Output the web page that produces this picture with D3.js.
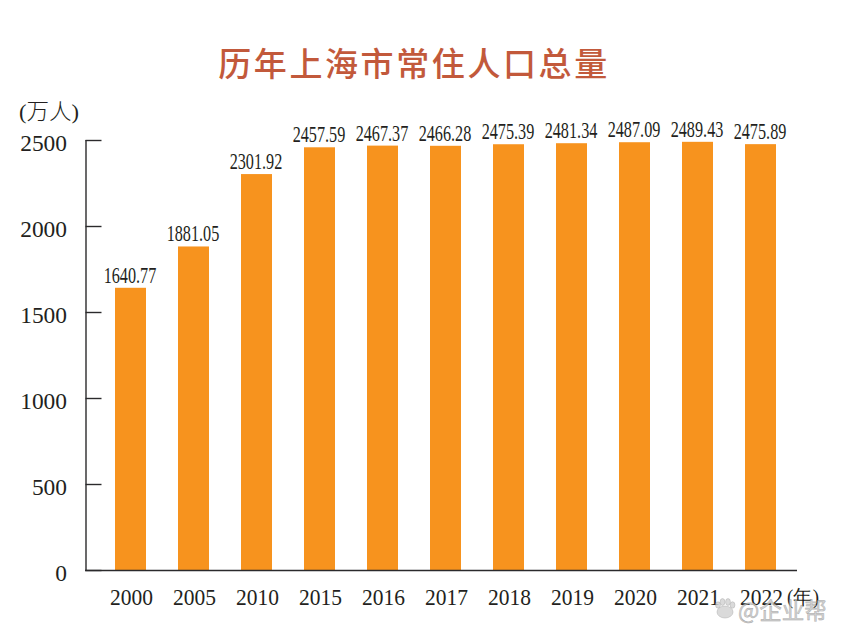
<!DOCTYPE html>
<html><head><meta charset="utf-8">
<script src="https://cdn.jsdelivr.net/npm/d3@7"></script>
<style>html,body{margin:0;background:#fff}svg{display:block}
text{font-family:"Liberation Serif",serif;fill:#231f20}</style></head>
<body><svg id="c" width="844" height="641"></svg>
<script>
const categories=["2000","2005","2010","2015","2016","2017","2018","2019","2020","2021","2022"];
const population=[1640.77,1881.05,2301.92,2457.59,2467.37,2466.28,2475.39,2481.34,2487.09,2489.43,2475.89];
const yTicks=[0,500,1000,1500,2000,2500];
const titleText="历年上海市常住人口总量";
const svg=d3.select("#c");
const x=d3.scaleBand().domain(categories).range([115,776]).paddingInner(0.508).paddingOuter(0);
const y=d3.scaleLinear().domain([0,2500]).range([570,140]);
const ink="#2b2a2c";

svg.append("text").attr("x",414).attr("y",76).attr("text-anchor","middle")
  .style("font-family","'Noto Sans CJK SC'").style("font-size","33px").style("font-weight","500")
  .style("fill","#c2593b").style("letter-spacing","2.6px").text(titleText);

svg.append("text").attr("x",19).attr("y",119).style("font-size","22px").style("font-family","'Liberation Serif','Noto Sans CJK SC'").style("font-weight","300").text("(万人)")
  .attr("textLength",60).attr("lengthAdjust","spacingAndGlyphs");

svg.selectAll("rect.bar").data(population).join("rect").attr("class","bar")
  .attr("x",(d,i)=>x(categories[i])).attr("width",x.bandwidth())
  .attr("y",d=>y(d)).attr("height",d=>y(0)-y(d)).attr("fill","#f7931e");

const yAxis=svg.append("g").attr("transform","translate(85.5,0)")
  .call(d3.axisRight(y).tickValues(yTicks).tickSize(16).tickFormat(""));
yAxis.select(".domain").attr("stroke",ink).attr("stroke-width",1.4).attr("d",`M0.5,${y(2500)}V${y(0)}`);
yAxis.selectAll("line").attr("stroke",ink).attr("stroke-width",1.4);

svg.append("g").selectAll("text").data(yTicks).join("text")
  .attr("text-anchor","end")
  .attr("transform",d=>`translate(67,${y(d)+11}) scale(0.975,1)`)
  .style("font-size","24px").text(d=>d);

svg.append("line").attr("x1",85).attr("x2",797).attr("y1",y(0)+0.5).attr("y2",y(0)+0.5)
  .attr("stroke",ink).attr("stroke-width",1.4);

svg.append("g").selectAll("text").data(categories).join("text")
  .attr("text-anchor","middle")
  .attr("transform",d=>`translate(${x(d)+x.bandwidth()/2+1},605) scale(0.935,1)`)
  .style("font-size","23px").text(d=>d);
svg.append("text").attr("transform","translate(787,604) scale(0.95,1)").style("font-size","20px").text("(年)");

svg.append("g").selectAll("text").data(population).join("text")
  .attr("text-anchor","middle")
  .attr("transform",(d,i)=>`translate(${x(categories[i])+x.bandwidth()/2-0.5},${y(d)-5}) scale(0.69,1)`)
  .style("font-size","23.5px").text(d=>d.toFixed(2));

const wm=svg.append("g").style("opacity",0.8);
wm.selectAll("ellipse").data([[-7,-6,2.4,3.2],[-2.5,-9,2.4,3.4],[3,-9,2.4,3.4],[7.5,-6,2.4,3.2],[0,1,8,6]]).join("ellipse")
  .attr("transform","translate(725,611)")
  .attr("cx",d=>d[0]).attr("cy",d=>d[1]).attr("rx",d=>d[2]).attr("ry",d=>d[3])
  .attr("fill","#d2d2d2").attr("stroke","#9a9a9a").attr("stroke-width",0.5);
wm.append("text").attr("x",738).attr("y",619).style("font-family","'Noto Sans CJK SC'")
  .style("font-size","22.5px").style("fill","#c8c8c8").style("stroke","#8a8a8a").style("stroke-width",0.4)
  .text("@企业帮");
</script></body></html>
